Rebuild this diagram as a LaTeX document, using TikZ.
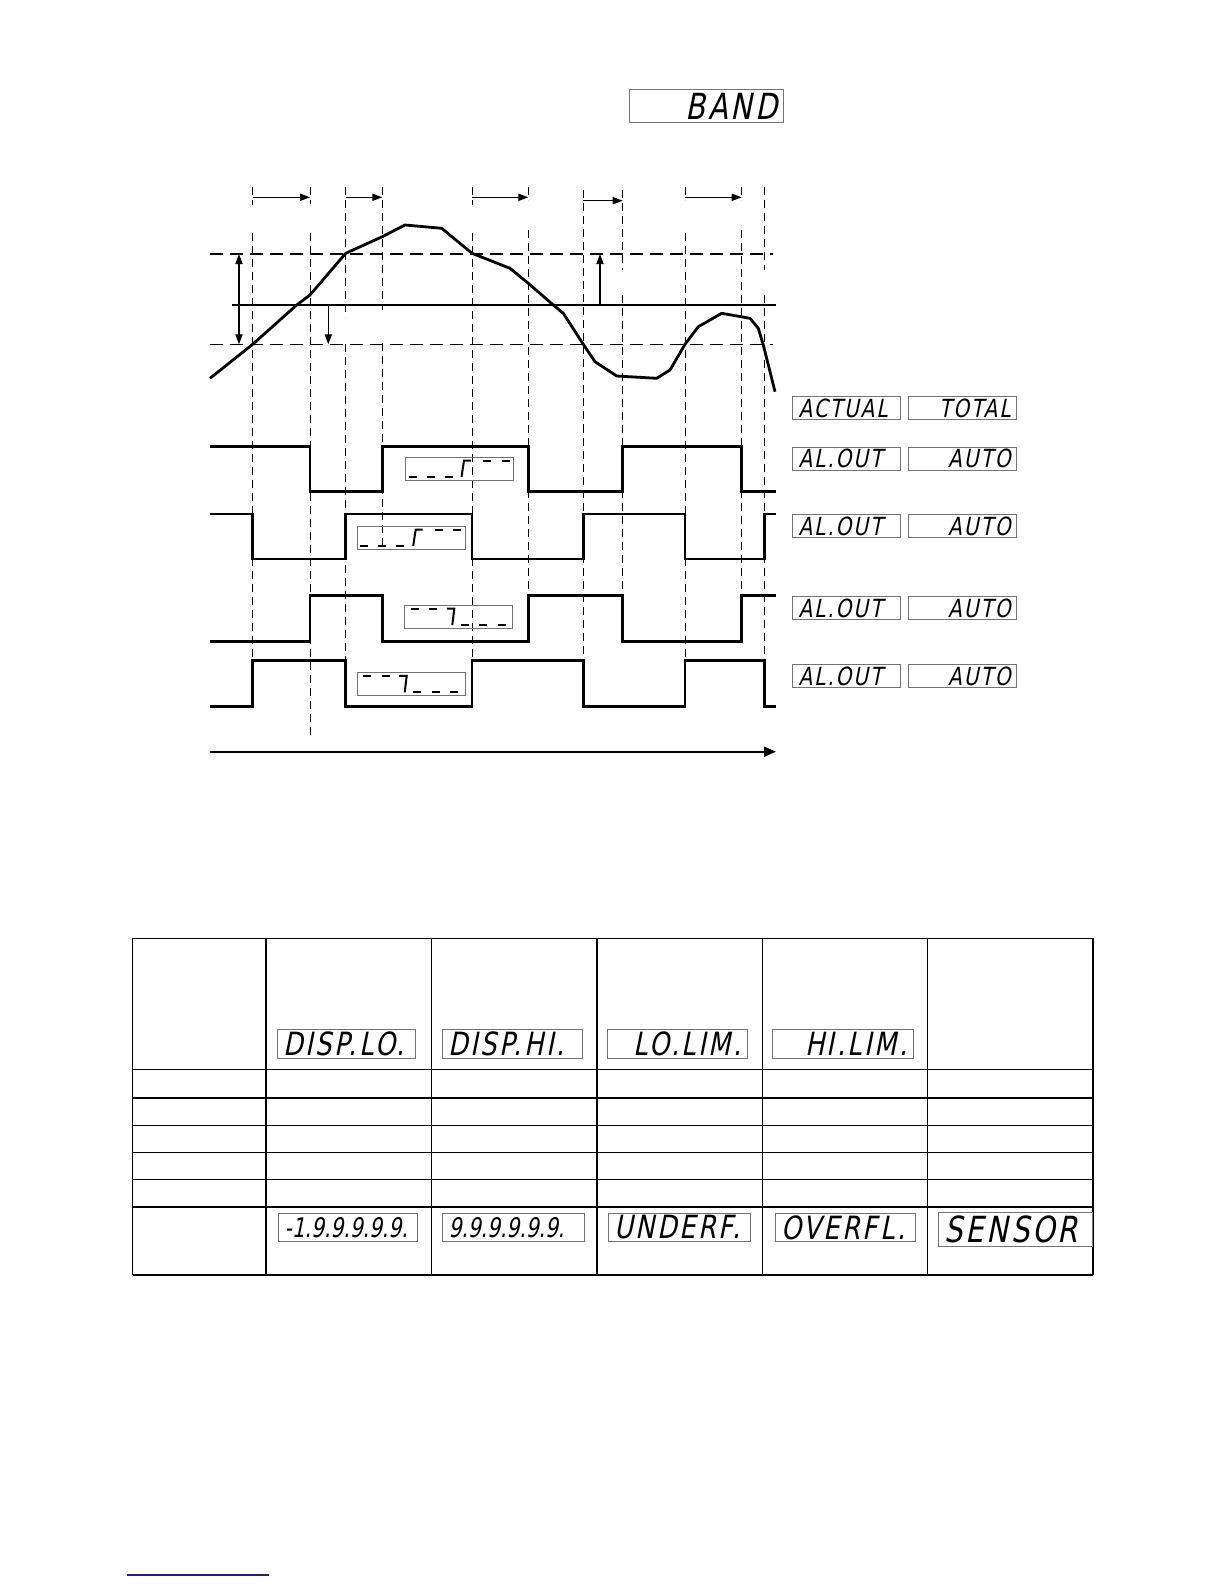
\documentclass[tikz,border=0pt]{standalone}
\usepackage{fontspec}
\usepackage{tikz}
\usetikzlibrary{arrows.meta}
\newfontfamily\lcdfont[FakeStretch=0.8,FakeSlant=0.2,LetterSpace=8]{DejaVu Sans}
\newfontfamily\lcdnum[FakeStretch=0.75,FakeSlant=0.2]{DejaVu Sans}
\definecolor{LinkBlue}{HTML}{1F1F8C}

\begin{document}
\begin{tikzpicture}[x=0.5pt,y=-0.5pt,
  lcd/.style={draw=black!55,line width=0.5pt,inner xsep=3pt,inner ysep=0pt,anchor=north west,text width=#1},
  panel/.style={lcd=48pt,minimum height=11.5pt,font=\lcdfont\fontsize{12.5}{13}\selectfont},
  cell/.style={lcd=#1,minimum height=14.5pt,font=\lcdfont\fontsize{16}{17}\selectfont},
  glyphbox/.style={draw=black!55,line width=0.5pt,inner sep=0pt,anchor=north west,minimum width=54pt,minimum height=11.5pt},
  vdash/.style={line width=0.5pt,dash pattern=on 4pt off 2.5pt},
  hdash/.style={line width=0.8pt,dash pattern=on 6.5pt off 3.5pt},
  pointer/.style={line width=0.6pt,-{Triangle[length=5pt,width=3.6pt]}},
  tempcurve/.style={line width=1.4pt,line join=round},
  outwave/.style={line width=1.4pt},
  rule/.style={line width=0.6pt}]
\useasboundingbox (0,0) rectangle (1224,1584);

\node[lcd=71pt,minimum height=16.5pt,align=right,font=\lcdfont\fontsize{18}{19}\selectfont] (band) at (629,89) {BAND};

% time marks
\foreach \x/\a/\b/\c/\d in {252.7/187/205/233/660, 310/187/204/233/735, 345.7/187/317/344/660,
  382.3/187/310/343/550, 472/187/205/233/657, 528.3/187/200/230/640, 583.3/190/425/425/660,
  622.7/190/270/295/640, 685/187/200/233/660, 741.7/187/200/230/593, 764.3/187/270/295/660}
  \draw[vdash] (\x,\a) -- (\x,\b) (\x,\c) -- (\x,\d);
\foreach \a/\b/\y in {252.7/310/197.3, 345.7/382.3/197.3, 472/528.3/197.3, 583.3/622.7/200.7, 685/741.7/197.3}
  \draw[pointer] (\a,\y) -- (\b,\y);

% set point and band
\draw[hdash] (210,254) -- (773,254);
\draw[hdash] (210,344.3) -- (773,344.3);
\draw[line width=0.8pt] (232,305) -- (776,305);
\draw[line width=0.6pt,{Triangle[length=5pt,width=3.6pt]}-{Triangle[length=5pt,width=3.6pt]}] (239,254) -- (239,344.3);
\draw[pointer] (328.3,305) -- (328.3,344.3);
\draw[pointer] (600,305) -- (600,254);

\draw[tempcurve] (210,378.3) -- (252.7,344.3) -- (296.7,305) -- (310,295) -- (345.7,253.3) -- (382.3,236.7)
  -- (405,225) -- (441.7,228.3) -- (472,253.3) -- (510,268.3) -- (528.3,283.3) -- (553.3,305)
  -- (563.3,313.3) -- (583.3,344.3) -- (595,361.7) -- (616.7,376) -- (656.7,378.3) -- (670,370)
  -- (685,344.3) -- (698.3,326.7) -- (721.7,313.3) -- (750,318.3) -- (758.3,328.3) -- (763.3,345) -- (775,391.7);

% outputs
\draw[outwave] (210,446.7) -| (310,491.7) -| (382.3,446.7) -| (528.3,491.7) -| (622.7,446.7) -| (741.7,491.7) -- (776,491.7);
\draw[outwave] (210,514) -| (252.7,559) -| (345.7,514) -| (472,559) -| (583.3,514) -| (685,559) -| (764.3,514) -- (776,514);
\draw[outwave] (210,641.7) -| (310,595.7) -| (382.3,641.7) -| (528.3,595.7) -| (622.7,641.7) -| (741.7,595.7) -- (776,595.7);
\draw[outwave] (210,706.7) -| (252.7,660.7) -| (345.7,706.7) -| (472,660.7) -| (583.3,706.7) -| (685,660.7) -| (764.3,706.7) -- (776,706.7);
\draw[line width=0.9pt,-{Triangle[length=6pt,width=5pt]}] (210,751.7) -- (776,751.7);

\node[glyphbox] (rise1) at (405,457) {};
\node[glyphbox] (rise2) at (356.7,526) {};
\node[glyphbox] (fall1) at (404.3,605) {};
\node[glyphbox] (fall2) at (356.7,672.3) {};
\foreach \bx/\by in {405/457, 356.7/526} {
  \begin{scope}[shift={(\bx,\by)},line width=1pt]
    \foreach \s in {3.5,21.5,39.5} \draw (\s,20) -- ++(8,0);
    \draw (56.5,20) -- (59,3.5) -- (66,3.5);
    \foreach \s in {78,96.5} \draw (\s,3.5) -- ++(8,0);
  \end{scope}}
\foreach \bx/\by in {404.3/605, 356.7/672.3} {
  \begin{scope}[shift={(\bx,\by)},line width=1pt]
    \foreach \s in {6.5,25} \draw (\s,3.5) -- ++(8,0);
    \draw (42.5,3.5) -- (50,3.5) -- (48,20);
    \foreach \s in {56.5,75,93.5} \draw (\s,20) -- ++(8,0);
  \end{scope}}

% displays
\node[panel,align=left] (actual) at (792,396) {ACTUAL};
\node[panel,align=right] (total) at (908,396) {TOTAL};
\foreach \n/\y in {1/446.7, 2/514.3, 3/596, 4/664} {
  \node[panel,align=left] (alout\n) at (792,\y) {AL.OUT};
  \node[panel,align=right] (auto\n) at (908,\y) {AUTO};
}

% table
\foreach \x in {132.5,266,431.5,597,762.5,927.5,1093} \draw[rule] (\x,938.3) -- (\x,1275);
\foreach \y in {938.3,1069.8,1097.9,1125.1,1152.4,1179.8,1207,1275} \draw[rule] (132.5,\y) -- (1093,\y);
\node[cell=63pt,align=left] (displo) at (277,1029) {DISP.LO.};
\node[cell=64pt,align=left] (disphi) at (442,1029) {DISP.HI.};
\node[cell=64pt,align=right] (lolim) at (607,1029) {LO.LIM.};
\node[cell=64.5pt,align=right] (hilim) at (772,1029) {HI.LIM.};
\node[cell=63.5pt,minimum height=14pt,align=left,font=\lcdnum\fontsize{13.5}{14}\selectfont] (dmin) at (278,1213) {\mbox{-1.9.9.9.9.9.}};
\node[cell=65pt,minimum height=14pt,align=left,font=\lcdnum\fontsize{13.5}{14}\selectfont] (dmax) at (442,1213) {\mbox{9.9.9.9.9.9.}};
\node[cell=65pt,minimum height=14pt,align=left] (underf) at (608,1213) {UNDERF.};
\node[cell=64pt,minimum height=14pt,align=left] (overfl) at (775,1213) {OVERFL.};
\node[cell=71pt,minimum height=17pt,align=left,font=\lcdfont\fontsize{18}{19}\selectfont] (sensor) at (938,1212) {SENSOR};

\draw[LinkBlue,line width=0.8pt] (127,1575) -- (269,1575);
\end{tikzpicture}
\end{document}
